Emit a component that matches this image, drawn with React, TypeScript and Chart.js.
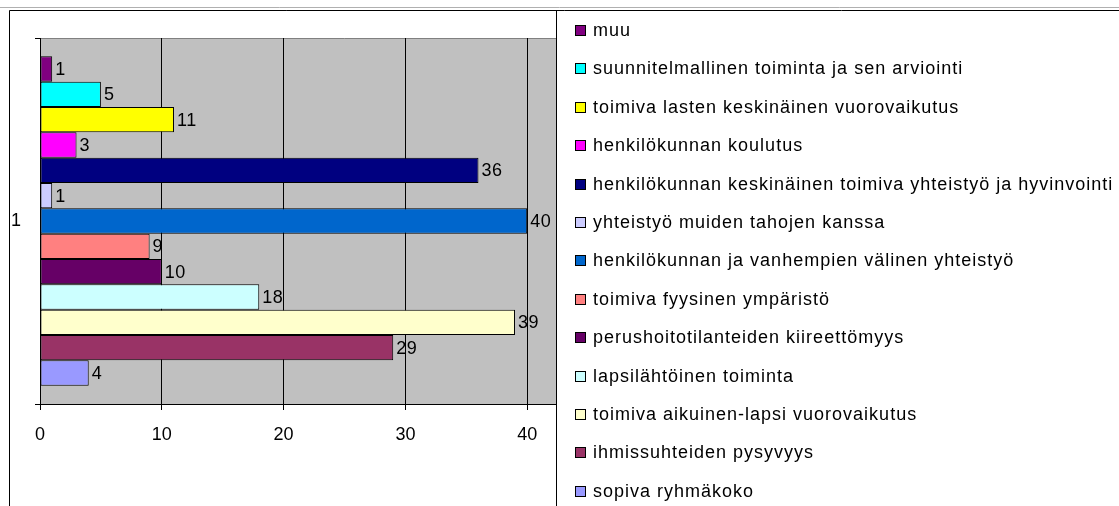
import React, { useEffect, useRef } from "react";
import { Chart, registerables } from "chart.js";

Chart.register(...registerables);

const categories: string[] = ["1"];

const seriesNames: string[] = [
  "muu",
  "suunnitelmallinen toiminta ja sen arviointi",
  "toimiva lasten keskinäinen vuorovaikutus",
  "henkilökunnan koulutus",
  "henkilökunnan keskinäinen toimiva yhteistyö ja hyvinvointi",
  "yhteistyö muiden tahojen kanssa",
  "henkilökunnan ja vanhempien välinen yhteistyö",
  "toimiva fyysinen ympäristö",
  "perushoitotilanteiden kiireettömyys",
  "lapsilähtöinen toiminta",
  "toimiva aikuinen-lapsi vuorovaikutus",
  "ihmissuhteiden pysyvyys",
  "sopiva ryhmäkoko",
];

const seriesValues: number[] = [1, 5, 11, 3, 36, 1, 40, 9, 10, 18, 39, 29, 4];

const seriesColors: string[] = [
  "#800080",
  "#00FFFF",
  "#FFFF00",
  "#FF00FF",
  "#000080",
  "#CCCCFF",
  "#0066CC",
  "#FF8080",
  "#660066",
  "#CCFFFF",
  "#FFFFCC",
  "#993366",
  "#9999FF",
];

const xAxisMin = 0;
const xAxisMax = 50;
const xAxisStep = 10;

const FONT = "'Liberation Sans', Arial, sans-serif";
const FONT_SIZE = 18;

const W = 1119;
const H = 506;

const framePlugin = {
  id: "frame",
  beforeDraw(chart: any) {
    const { ctx, chartArea } = chart;
    ctx.save();
    ctx.fillStyle = "#FFFFFF";
    ctx.fillRect(0, 0, W, H);
    ctx.strokeStyle = "#B0B0B0";
    ctx.lineWidth = 1;
    ctx.beginPath();
    ctx.moveTo(0, 7.5);
    ctx.lineTo(W, 7.5);
    ctx.stroke();
    ctx.strokeStyle = "#000000";
    ctx.beginPath();
    ctx.moveTo(9.5, H);
    ctx.lineTo(9.5, 10.5);
    ctx.lineTo(W, 10.5);
    ctx.stroke();
    ctx.fillStyle = "#C0C0C0";
    ctx.fillRect(chartArea.left, chartArea.top, chartArea.right - chartArea.left, chartArea.bottom - chartArea.top);
    ctx.strokeStyle = "#808080";
    ctx.beginPath();
    ctx.moveTo(chartArea.left, chartArea.top + 0.5);
    ctx.lineTo(chartArea.right, chartArea.top + 0.5);
    ctx.stroke();
    ctx.restore();
  },
};

const dataLabelPlugin = {
  id: "dataLabels",
  afterDatasetsDraw(chart: any) {
    const { ctx } = chart;
    ctx.save();
    ctx.font = `${FONT_SIZE}px ${FONT}`;
    (ctx as any).letterSpacing = "0.5px";
    ctx.fillStyle = "#000000";
    ctx.textAlign = "left";
    ctx.textBaseline = "middle";
    chart.data.datasets.forEach((ds: any, i: number) => {
      const meta = chart.getDatasetMeta(i);
      const el = meta.data[0];
      if (!el) return;
      ctx.fillText(String(ds.data[0]), el.x + 3, el.y + 1);
    });
    (ctx as any).letterSpacing = "0px";
    ctx.restore();
  },
};

const legendPlugin = {
  id: "sideLegend",
  afterDraw(chart: any) {
    const { ctx } = chart;
    const boxLeft = 556;
    ctx.save();
    ctx.fillStyle = "#FFFFFF";
    ctx.fillRect(boxLeft, 11, W - boxLeft, H - 11);
    ctx.strokeStyle = "#000000";
    ctx.lineWidth = 1;
    ctx.beginPath();
    ctx.moveTo(boxLeft + 0.5, 10);
    ctx.lineTo(boxLeft + 0.5, H);
    ctx.stroke();
    ctx.font = `${FONT_SIZE}px ${FONT}`;
    (ctx as any).letterSpacing = "1px";
    ctx.textAlign = "left";
    ctx.textBaseline = "middle";
    const firstY = 30;
    const rowH = 38.4;
    seriesNames.forEach((name, i) => {
      const cy = Math.round(firstY + i * rowH);
      ctx.fillStyle = seriesColors[i];
      ctx.fillRect(575, cy - 5, 11, 11);
      ctx.strokeStyle = "#000000";
      ctx.strokeRect(575.5, cy - 4.5, 10, 10);
      ctx.fillStyle = "#000000";
      ctx.fillText(name, 593, cy + 1);
    });
    (ctx as any).letterSpacing = "0px";
    ctx.restore();
  },
};

export default function App() {
  const canvasRef = useRef<HTMLCanvasElement | null>(null);

  useEffect(() => {
    const canvas = canvasRef.current;
    if (!canvas) return;
    const chart = new Chart(canvas, {
      type: "bar",
      data: {
        labels: categories,
        datasets: seriesNames.map((name, i) => ({
          label: name,
          data: [seriesValues[i]],
          backgroundColor: seriesColors[i],
          borderColor: "#000000",
          borderWidth: 1,
          borderSkipped: false,
          categoryPercentage: 0.9,
          barPercentage: 1,
        })),
      },
      options: {
        indexAxis: "y",
        responsive: false,
        animation: false,
        devicePixelRatio: 1,
        layout: { padding: { left: 0, top: 38, right: W - 649, bottom: 0 } },
        plugins: {
          legend: { display: false },
          tooltip: { enabled: false },
          title: { display: false },
        },
        scales: {
          x: {
            type: "linear",
            position: "bottom",
            min: xAxisMin,
            max: xAxisMax,
            ticks: {
              stepSize: xAxisStep,
              color: "#000000",
              font: { family: FONT, size: FONT_SIZE },
              padding: 14,
              maxRotation: 0,
            },
            grid: {
              color: "#000000",
              lineWidth: 1,
              drawOnChartArea: true,
              drawTicks: true,
              tickLength: 6,
              tickColor: "#000000",
            },
            border: { display: true, color: "#000000", width: 1 },
            afterFit: (s: any) => {
              s.height = H - 404;
            },
          },
          y: {
            type: "category",
            position: "left",
            offset: true,
            ticks: {
              color: "#000000",
              font: { family: FONT, size: FONT_SIZE },
              padding: 14,
            },
            grid: {
              offset: true,
              drawOnChartArea: false,
              drawTicks: true,
              tickLength: 5,
              color: "#000000",
              tickColor: "#000000",
            },
            border: { display: true, color: "#000000", width: 1 },
            afterFit: (s: any) => {
              s.width = 40;
            },
          },
        },
      },
      plugins: [framePlugin, dataLabelPlugin, legendPlugin],
    } as any);
    return () => {
      chart.destroy();
    };
  }, []);

  return (
    <div
      style={{
        position: "absolute",
        left: 0,
        top: 0,
        width: W,
        height: H,
        background: "#FFFFFF",
        overflow: "hidden",
      }}
    >
      <canvas ref={canvasRef} width={W} height={H} style={{ display: "block" }} />
    </div>
  );
}
